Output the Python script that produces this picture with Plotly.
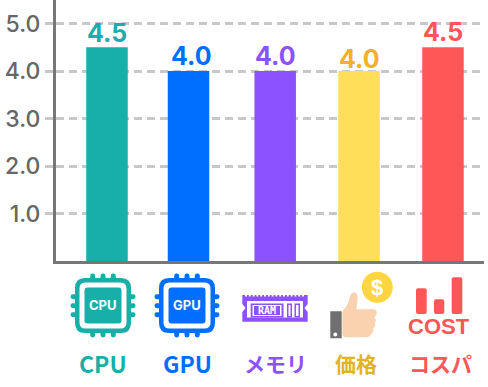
import plotly.graph_objects as go

categories = ["CPU", "GPU", "メモリ", "価格", "コスパ"]
values = [4.5, 4.0, 4.0, 4.0, 4.5]
value_labels = ["4.5", "4.0", "4.0", "4.0", "4.5"]
bar_colors = ["#17AFA8", "#006FFF", "#8C52FF", "#FFDE59", "#FF5757"]
value_colors = ["#17AFA8", "#006FFF", "#8C52FF", "#F5AE2E", "#FF5757"]
name_colors = ["#17AFA8", "#006FFF", "#8C52FF", "#E0B41E", "#FF5757"]
y_ticks = [1, 2, 3, 4, 5]
y_tick_labels = ["1.0", "2.0", "3.0", "4.0", "5.0"]

W, H = 488, 387
FONT = "Noto Sans CJK JP"
NUM_FONT = "Inter"
BAR_STEP = 84
nudges = [0, -2.5, 0.2, 0, 0]
bw = 41.5 / BAR_STEP


def px(x):
    return x / W


def py(y):
    return 1 - y / H


def pt(x, y):
    return f"{px(x):.5f},{py(y):.5f}"


def rr(x0, y0, x1, y1, r):
    return (f"M{pt(x0 + r, y0)} L{pt(x1 - r, y0)} Q{pt(x1, y0)} {pt(x1, y0 + r)} "
            f"L{pt(x1, y1 - r)} Q{pt(x1, y1)} {pt(x1 - r, y1)} L{pt(x0 + r, y1)} "
            f"Q{pt(x0, y1)} {pt(x0, y1 - r)} L{pt(x0, y0 + r)} Q{pt(x0, y0)} {pt(x0 + r, y0)} Z ")


def poly(points):
    return "M" + " L".join(pt(*p) for p in points) + " Z "


shapes = []


def fill(path, color):
    shapes.append(dict(type="path", xref="paper", yref="paper", path=path,
                       fillcolor=color, line=dict(width=0), layer="above"))


def circle(cx, cy, r, color):
    shapes.append(dict(type="circle", xref="paper", yref="paper",
                       x0=px(cx - r), x1=px(cx + r), y0=py(cy + r), y1=py(cy - r),
                       fillcolor=color, line=dict(width=0), layer="above"))


annotations = []


def label(x, y, text, size, color, family=FONT, bold=True):
    annotations.append(dict(xref="paper", yref="paper", x=px(x), y=py(y), text=f"<b>{text}</b>" if bold else text,
                            showarrow=False, xanchor="center", yanchor="middle",
                            font=dict(size=size, color=color, family=family)))


def chip(cx, color, text):
    x0, x1, y0, y1 = cx - 28, cx + 28, 278, 333
    fill(rr(x0, y0, x1, y1, 10) + rr(x0 + 4.5, y0 + 4.5, x1 - 4.5, y1 - 4.5, 6), color)
    fill(rr(x0 + 9.5, y0 + 9.5, x1 - 9.5, y1 - 9.5, 3), color)
    for d in (-10.3, 0, 10.3):
        fill(rr(cx + d - 2.5, 273.5, cx + d + 2.5, 280, 2.4), color)
        fill(rr(cx + d - 2.5, 331, cx + d + 2.5, 337.5, 2.4), color)
    for d in (-9, 0, 9):
        fill(rr(cx - 32.5, 305.7 + d - 2.5, cx - 26, 305.7 + d + 2.5, 2.4), color)
        fill(rr(cx + 26, 305.7 + d - 2.5, cx + 32.5, 305.7 + d + 2.5, 2.4), color)
    label(cx, 305, text, 13, "white", family=NUM_FONT)


chip(103, bar_colors[0], "CPU")
chip(187, bar_colors[1], "GPU")

# RAM stick
c = bar_colors[2]
ram = [(242.3, 295)]
for i in range(16):
    ram += [(245 + i * 3.8, 295), (245 + i * 3.8, 296.5), (247 + i * 3.8, 296.5), (247 + i * 3.8, 295)]
ram += [(307.7, 295), (307.7, 304), (304.5, 308), (307.7, 312), (307.7, 321.7),
        (242.3, 321.7), (242.3, 312), (245.5, 308), (242.3, 304)]
fill(poly(ram), c)
fill(rr(247, 301, 303, 317.5, 0), "white")
fill(rr(250.7, 303.5, 283.5, 317.5, 0), c)
fill(rr(252.5, 305, 281.5, 316, 0), "white")
fill(rr(254, 306, 280, 315, 0), c)
fill(rr(287, 303.5, 292, 317.5, 0), c)
fill(rr(288.5, 305, 290.5, 316, 0), "white")
fill(rr(294.5, 303.5, 300, 317.5, 0), c)
fill(rr(296, 305, 298.5, 316, 0), "white")
label(267, 310.5, "RAM", 10, "white", family="DejaVu Sans Mono")

# Thumbs-up with coin
circle(377.3, 287.3, 15.5, "#FFD63F")
label(377.3, 287, "$", 22, "white", family="Liberation Sans")
fill(rr(330.3, 311.3, 341.7, 338.3, 0), "#6F6F6F")
circle(335.3, 334.5, 2, "white")
hand = ("M" + pt(342.3, 333) + " L" + pt(342.3, 313) + " Q" + pt(343, 310) + " " + pt(346, 307)
        + " Q" + pt(349, 302) + " " + pt(350, 296) + " Q" + pt(352, 291) + " " + pt(355.5, 292.5)
        + " Q" + pt(358, 294) + " " + pt(357.5, 300) + " L" + pt(356.5, 309.3) + " L" + pt(374, 309.3)
        + " Q" + pt(377.5, 310) + " " + pt(376.5, 314) + " Q" + pt(375, 317.5) + " " + pt(374, 317.5)
        + " Q" + pt(377, 319) + " " + pt(375, 323) + " Q" + pt(376, 326) + " " + pt(373, 329)
        + " Q" + pt(374, 332) + " " + pt(371, 334) + " Q" + pt(370, 337.3) + " " + pt(366, 337.3)
        + " L" + pt(346, 337.3) + " Q" + pt(342.3, 337.3) + " " + pt(342.3, 333) + " Z")
fill(hand, "#FBD2B0")

# Cost bars
c = bar_colors[4]
fill(rr(416, 288.3, 426.7, 314, 2), c)
fill(rr(434, 299.3, 444.3, 314, 2), c)
fill(rr(451.7, 277.3, 462.3, 314, 2), c)
label(439, 326.5, "COST", 22, c, family="Liberation Sans")

# Category names under the icons
for name, col, x, size in zip(categories, name_colors, [103, 187, 275, 356, 440], [23, 23, 21, 21, 21]):
    label(x, 363, name, size, col)

# Value labels above the bars
for cat, v, text, col, shift in zip(categories, values, value_labels, value_colors, [-3, -2, -2, -5, -2]):
    annotations.append(dict(x=cat, y=v, xref="x", yref="y", text=f"<b>{text}</b>", showarrow=False,
                            yanchor="bottom", xanchor="center", yshift=shift,
                            font=dict(size=25, color=col, family=NUM_FONT)))

fig = go.Figure(go.Bar(
    x=categories, y=values, width=bw,
    offset=[n / BAR_STEP - bw / 2 for n in nudges],
    marker=dict(color=bar_colors, line=dict(width=0)),
    hoverinfo="skip",
))

fig.update_layout(
    width=W, height=H, margin=dict(l=0, r=0, t=0, b=0),
    plot_bgcolor="white", paper_bgcolor="white", showlegend=False,
    shapes=shapes, annotations=annotations,
    font=dict(family=FONT),
    xaxis=dict(
        type="category", domain=[px(56), px(484)],
        range=[(56 - 107) / BAR_STEP, (484 - 107) / BAR_STEP],
        showticklabels=False, ticks="", showgrid=False, zeroline=False,
        showline=True, linecolor="#777777", linewidth=3, anchor="y",
    ),
    yaxis=dict(
        domain=[py(261), 1], range=[0, 261 / 47.5],
        tickvals=y_ticks, ticktext=y_tick_labels,
        tickfont=dict(size=23, color="#666666", family=NUM_FONT, weight=500),
        ticks="outside", ticklen=8, tickwidth=3, tickcolor="#C8C8C8",
        showgrid=True, gridcolor="#C8C8C8", gridwidth=3, griddash="8px,5px",
        zeroline=False, showline=True, linecolor="#777777", linewidth=3, anchor="x",
    ),
)

fig.write_html("out.html", config=dict(displayModeBar=False),
               post_script="document.body.style.margin='0';document.body.style.overflow='hidden';")
